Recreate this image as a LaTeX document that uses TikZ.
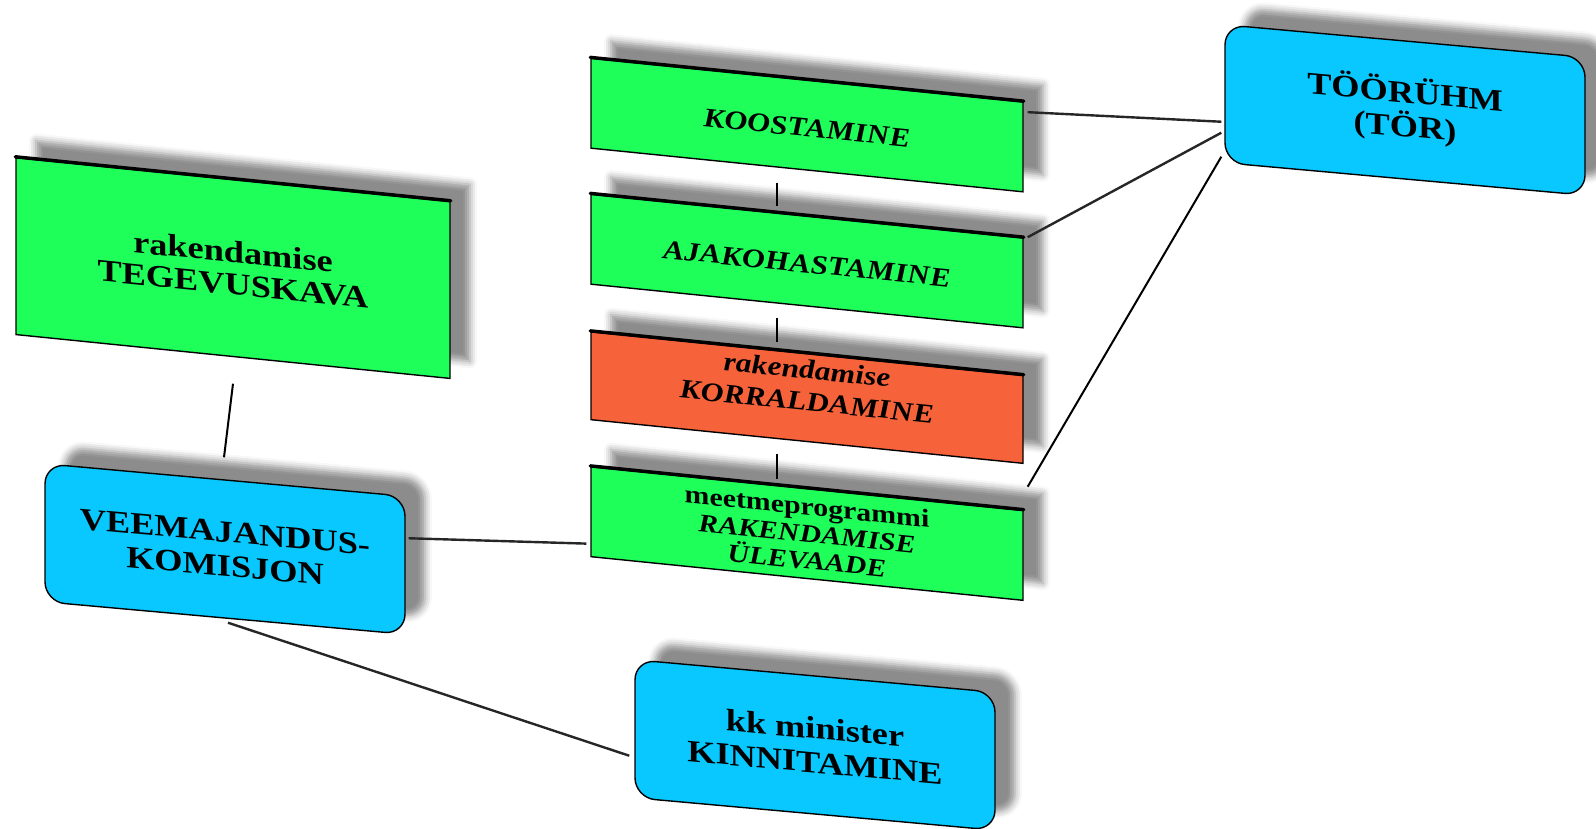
\documentclass[tikz,border=0pt]{standalone}
\usepackage{fontspec}
\setmainfont{Liberation Serif}[FakeStretch=1.17]
\usetikzlibrary{shadows.blur}
\definecolor{bgreen}{RGB}{30,255,90}
\definecolor{borange}{RGB}{246,98,58}
\definecolor{bblue}{RGB}{8,200,255}
\tikzset{
  shad/.style={blur shadow={shadow xshift=20pt, shadow yshift=17pt, shadow blur radius=7pt, shadow opacity=45}},
  rectbox/.style={draw=black, line width=1.4pt, inner sep=0pt, align=center,
     minimum width=432pt, minimum height=90pt, yslant=-0.101, shad, fill=bgreen},
  roundbox/.style={draw=black, line width=1.4pt, inner sep=0pt, align=center,
     minimum width=360pt, minimum height=138pt, yslant=-0.09, rounded corners=20pt, shad, fill=bblue,
     font=\fontsize{31}{34}\selectfont\bfseries},
  midtext/.style={align=center, inner sep=0pt, yslant=-0.101, font=\fontsize{27}{32}\selectfont\bfseries\itshape},
  topedge/.style={line width=3.5pt, line cap=round},
  link/.style={line width=2pt, black},
  tlink/.style={line width=2.4pt, black!85},
}
\begin{document}
\begin{tikzpicture}[x=1pt, y=-1pt]
\useasboundingbox (0,0) rectangle (1596,829);

% rectangular boxes
\node[rectbox, minimum width=434pt, minimum height=177pt, font=\fontsize{31}{32}\selectfont\bfseries] (teg) at (233,268) {rakendamise\\TEGEVUSKAVA};
\node[rectbox] (koos) at (807,125) {};
\node[midtext] (koostext) at ([yshift=-3pt]koos.center) {KOOSTAMINE};
\node[rectbox] (ajak) at (807,261) {};
\node[midtext] (ajaktext) at ([yshift=-3pt]ajak.center) {AJAKOHASTAMINE};
\node[rectbox, fill=borange, minimum height=88pt] (korr) at (807,397.5) {};
\node[midtext] (korrtext) at ([yshift=12pt]korr.center) {rakendamise\\KORRALDAMINE};
\node[rectbox, font=\fontsize{25.5}{27}\selectfont\bfseries\itshape] (ulev) at (807,533.5) {{\upshape meetmeprogrammi}\\RAKENDAMISE\\ÜLEVAADE};

\foreach \n in {teg,koos,ajak,korr,ulev}
  \draw[topedge] (\n.north west) -- (\n.north east);

% rounded boxes
\node[roundbox] (toor) at (1405,110) {TÖÖRÜHM\\(TÖR)};
\node[roundbox] (veem) at (225,549) {VEEMAJANDUS-\\KOMISJON};
\node[roundbox] (kinn) at (815,745) {kk minister\\KINNITAMINE};

% connectors
\draw[link] ([yshift=-26.5pt]teg.south) -- ([xshift=-1pt,yshift=22pt]veem.north);
\draw[link] ([xshift=-30pt,yshift=-12pt]koos.south) -- ([xshift=-30pt,yshift=9pt]ajak.north);
\draw[link] ([xshift=-30pt,yshift=-11pt]ajak.south) -- ([xshift=-30pt,yshift=10.5pt]korr.north);
\draw[link] ([xshift=-30pt,yshift=-11.5pt]korr.south) -- ([xshift=-30pt,yshift=8.5pt]ulev.north);
\draw[tlink] ([xshift=4pt,yshift=-11pt]koos.north east) -- ([xshift=-3pt,yshift=-28pt]toor.west);
\draw[tlink] ([xshift=4pt]ajak.north east) -- ([xshift=-3pt,yshift=-39pt]toor.west);
\draw[link] ([xshift=4pt,yshift=23pt]ulev.north east) -- ([xshift=-3pt,yshift=-63pt]toor.west);
\draw[tlink] ([xshift=3pt,yshift=27pt]veem.east) -- ([xshift=-4pt,yshift=-32pt]ulev.west);
\draw[tlink] ([xshift=3pt,yshift=-4pt]veem.south) -- ([xshift=-5pt,yshift=-27pt]kinn.west);
\end{tikzpicture}
\end{document}
